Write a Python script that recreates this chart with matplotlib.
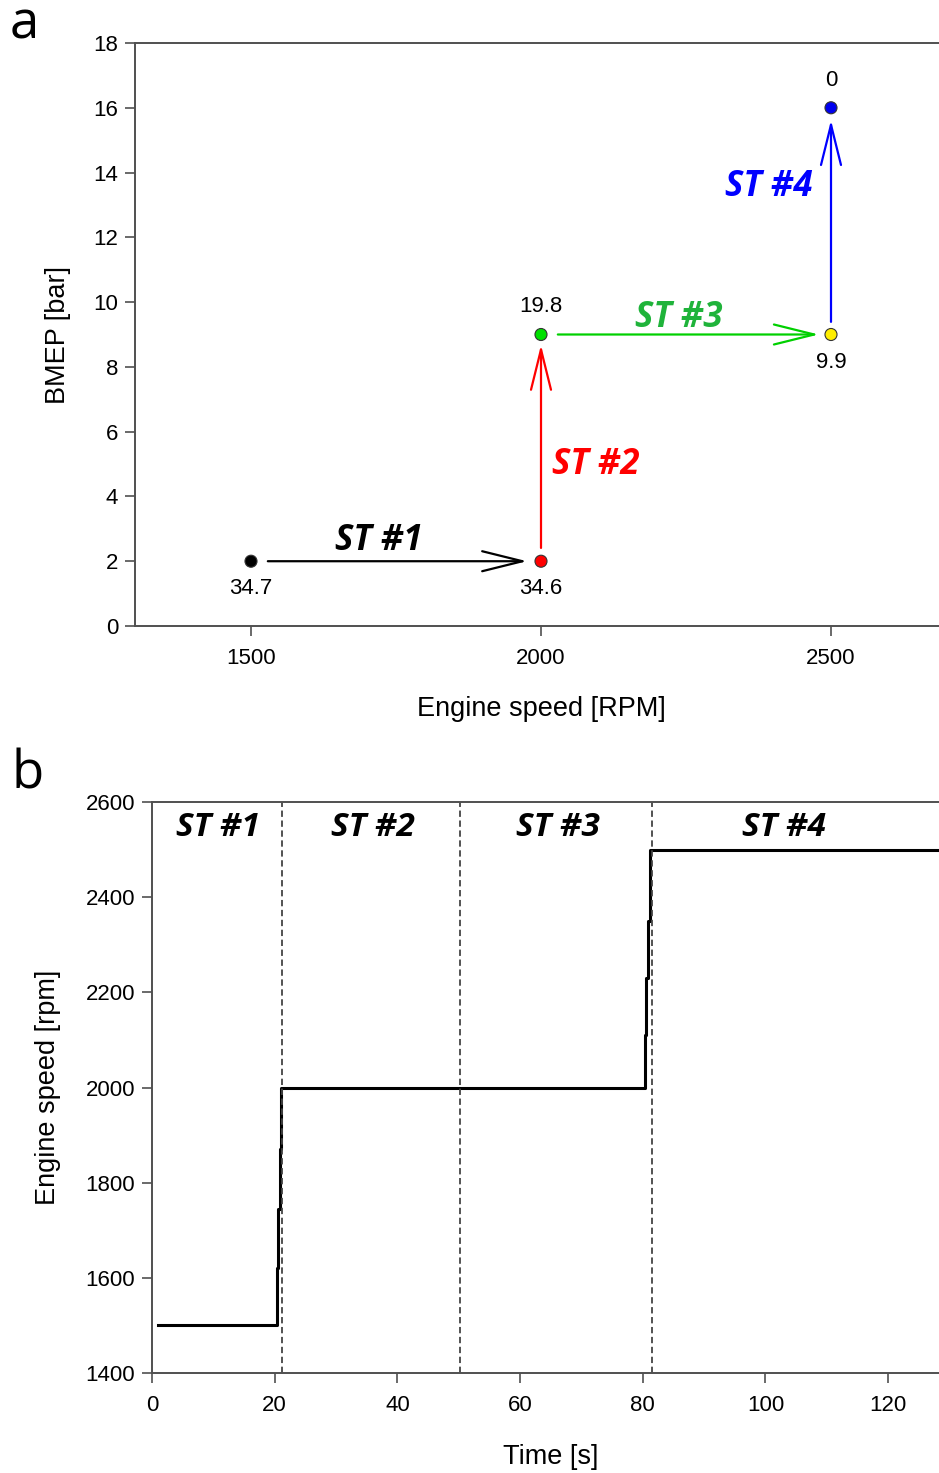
import matplotlib
matplotlib.use("Agg")
import matplotlib.pyplot as plt

# ---- panel a: operating points ----
speed_rpm = [1500, 2000, 2000, 2500, 2500]
bmep_bar = [2, 2, 9, 9, 16]
point_colors = ["#000000", "#ff0000", "#00e000", "#ffee00", "#0000ee"]
point_labels = ["34.7", "34.6", "19.8", "9.9", "0"]
label_below = [True, True, False, True, False]

# steps drawn as arrows: (start, end), label, label position, colour
step_names = ["ST #1", "ST #2", "ST #3", "ST #4"]
step_starts = [(1529, 2), (2000, 2.41), (2029, 9), (2500, 9.39)]
step_ends = [(1976, 2), (2000, 8.68), (2479, 9), (2500, 15.62)]
step_text_pos = [(1720, 2.62), (2095, 4.97), (2238, 9.5), (2393, 13.55)]
step_line_colors = ["#000000", "#ff0000", "#00d000", "#0000ff"]
step_text_colors = ["#000000", "#ff0000", "#1fb33a", "#0000ff"]

# ---- panel b: engine speed trace ----
time_s = [1, 20, 20.3, 20.6, 20.9, 21, 80, 80.3, 80.6, 80.9, 81.2, 130]
engine_rpm = [1500, 1500, 1620, 1745, 1870, 2000, 2000, 2110, 2230, 2350, 2500, 2500]
boundaries_s = [21.2, 50.2, 81.5]
phase_centers_s = [10.8, 36.0, 66.2, 103.0]
phase_names = ["ST #1", "ST #2", "ST #3", "ST #4"]

TICK_FONT = "Liberation Sans"
ST_FONT = "Open Sans"
AX_COLOR = "#505050"

fig = plt.figure(figsize=(9.39, 14.73), dpi=100)


def style_axes(ax):
    for side in ("left", "bottom", "top"):
        ax.spines[side].set_color(AX_COLOR)
        ax.spines[side].set_linewidth(1.4)
    ax.spines["right"].set_visible(False)
    ax.tick_params(direction="out", length=7, width=1.2, color=AX_COLOR,
                   labelsize=16, pad=5)
    for lab in ax.get_xticklabels() + ax.get_yticklabels():
        lab.set_family(TICK_FONT)


# panel a
ax1 = fig.add_axes([135 / 939, 1 - 626 / 1473, 812 / 939, 583 / 1473])
ax1.set_xlim(1300, 2700)
ax1.set_ylim(0, 18)
ax1.set_xticks([1500, 2000, 2500])
ax1.set_yticks(range(0, 19, 2))
style_axes(ax1)
ax1.tick_params(axis="x", pad=9)
ax1.set_xlabel("Engine speed [RPM]", fontsize=19.5, family=TICK_FONT, labelpad=19)
ax1.set_ylabel("BMEP [bar]", fontsize=19.5, family=TICK_FONT, labelpad=16)

for (x0, y0), (x1, y1), col in zip(step_starts, step_ends, step_line_colors):
    ax1.annotate("", xy=(x1, y1), xytext=(x0, y0),
                 arrowprops=dict(arrowstyle="->,head_length=1.45,head_width=0.36",
                                 color=col, lw=1.6, shrinkA=0, shrinkB=0,
                                 mutation_scale=20))
for name, (tx, ty), col in zip(step_names, step_text_pos, step_text_colors):
    ax1.text(tx, ty, name, color=col, fontsize=25, fontweight="bold",
             fontstyle="italic", family=ST_FONT, ha="center", va="center")

ax1.scatter(speed_rpm, bmep_bar, s=75, c=point_colors, edgecolors="#333333",
            linewidths=0.8, zorder=5)
for x, y, lab, below in zip(speed_rpm, bmep_bar, point_labels, label_below):
    off = -20 if below else 20
    ax1.annotate(lab, (x, y), xytext=(0, off), textcoords="offset points",
                 ha="center", va="center", fontsize=16, family=TICK_FONT)

fig.text(10 / 939, 1 - 25 / 1473, "a", fontsize=38, family=ST_FONT,
         ha="left", va="center")

# panel b
ax2 = fig.add_axes([152 / 939, 1 - 1373 / 1473, 797.5 / 939, 571 / 1473])
ax2.set_xlim(0, 130)
ax2.set_ylim(1400, 2600)
ax2.set_xticks(range(0, 121, 20))
ax2.set_yticks(range(1400, 2601, 200))
style_axes(ax2)
ax2.tick_params(axis="x", pad=9)
ax2.plot(time_s, engine_rpm, color="black", lw=2.2, drawstyle="steps-post")
for b in boundaries_s:
    ax2.axvline(b, color="#444444", lw=1.3, ls=(0, (3.5, 2)))
for cx, name in zip(phase_centers_s, phase_names):
    ax2.text(cx, 2546, name, fontsize=24, fontweight="bold", fontstyle="italic",
             family=ST_FONT, ha="center", va="center")
ax2.set_xlabel("Time [s]", fontsize=19.5, family=TICK_FONT, labelpad=20)
ax2.set_ylabel("Engine speed [rpm]", fontsize=19.5, family=TICK_FONT, labelpad=18)

fig.text(12 / 939, 1 - 775 / 1473, "b", fontsize=38, family=ST_FONT,
         ha="left", va="center")

fig.savefig("out.png", dpi=100)
